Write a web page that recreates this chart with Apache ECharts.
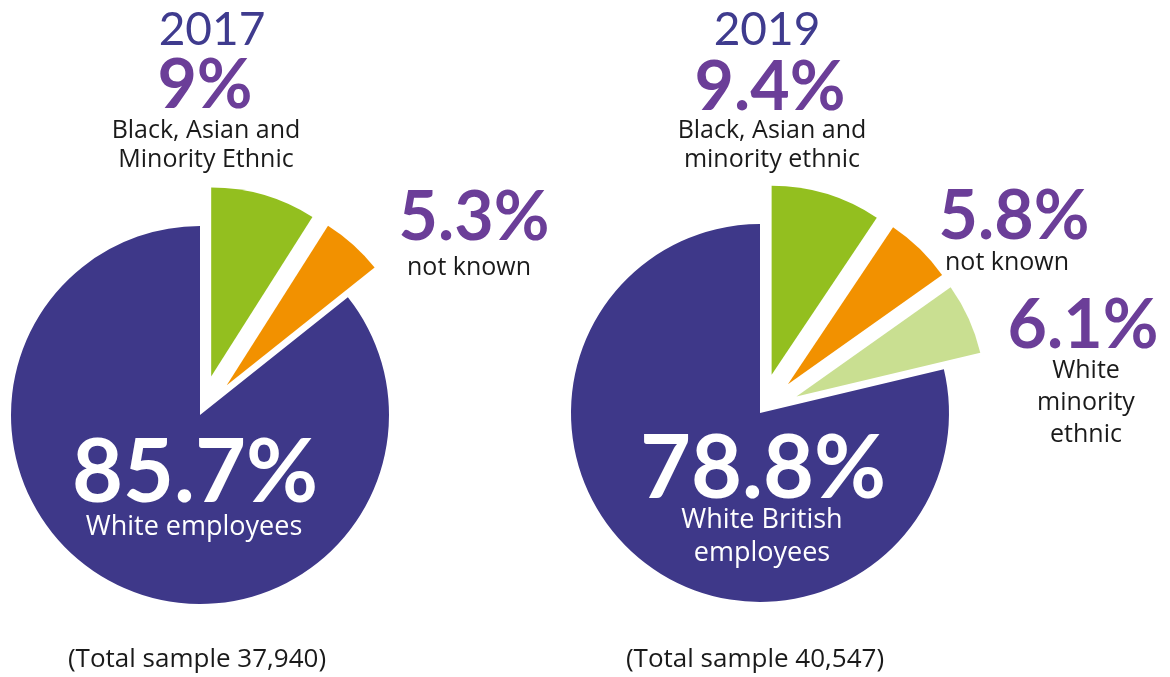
<!DOCTYPE html>
<html>
<head>
<meta charset="utf-8">
<script src="https://cdn.jsdelivr.net/npm/echarts@6/dist/echarts.min.js"></script>
<style>
html,body{margin:0;padding:0;background:#fff;}
#chart{width:1170px;height:677px;}
</style>
</head>
<body>
<div id="chart"></div>
<script>
const years = ['2017', '2019'];
const cats2017 = ['Black, Asian and Minority Ethnic', 'not known', 'White employees'];
const vals2017 = [9, 5.3, 85.7];
const cats2019 = ['Black, Asian and minority ethnic', 'not known', 'White minority ethnic', 'White British employees'];
const vals2019 = [9.4, 5.8, 6.1, 78.8];
const samples = ['37,940', '40,547'];

const PURPLE = '#3e3889';
const GREEN = '#93bf1f';
const ORANGE = '#f29100';
const LIGHTGREEN = '#c9df91';
const TITLE = '#3f3b8e';
const PCT = '#6b3e98';
const FONT = 'Lato, "Open Sans", sans-serif';
const LFONT = '"Open Sans", Lato, sans-serif';

const colors2017 = [GREEN, ORANGE, PURPLE];
const colors2019 = [GREEN, ORANGE, LIGHTGREEN, PURPLE];

function pieData(cats, vals, cols) {
  return cats.map((c, i) => ({
    name: c,
    value: vals[i],
    selected: i < cats.length - 1,
    itemStyle: { color: cols[i] }
  }));
}

function pieSeries(cats, vals, cols, center) {
  return {
    type: 'pie',
    z: 1,
    center: center,
    radius: 189,
    startAngle: 90,
    clockwise: true,
    selectedMode: 'multiple',
    selectedOffset: 40,
    avoidLabelOverlap: false,
    label: { show: false },
    labelLine: { show: false },
    emphasis: { disabled: true },
    select: { itemStyle: {} },
    animation: false,
    data: pieData(cats, vals, cols)
  };
}

function txt(x, y, text, size, color, weight, font, lh) {
  return {
    type: 'text', x: x, y: y, z: 100, silent: true,
    style: {
      text: text, fontSize: size, fontFamily: font || LFONT, fontWeight: weight || 'normal',
      fill: color, align: 'center', verticalAlign: 'middle', lineHeight: lh || Math.round(size * 1.28)
    }
  };
}
const pct = v => v + '%';

const graphics = [
  // 2017
  txt(212, 30, years[0], 46, TITLE, 'normal', FONT),
  txt(205, 86, pct(vals2017[0]), 68, PCT, 'bold', FONT),
  txt(206, 145, 'Black, Asian and\nMinority Ethnic', 25, '#1a1a1a', 'normal', LFONT, 29),
  txt(474, 218, pct(vals2017[1]), 68, PCT, 'bold', FONT),
  txt(469, 268, cats2017[1], 25, '#1a1a1a'),
  txt(195, 474, pct(vals2017[2]), 88, '#ffffff', 'bold', FONT),
  txt(194, 527, 'White employees', 27, '#ffffff'),
  txt(197, 660, '(Total sample ' + samples[0] + ')', 26, '#1a1a1a'),
  // 2019
  txt(767, 30, years[1], 46, TITLE, 'normal', FONT),
  txt(770, 88, pct(vals2019[0]), 68, PCT, 'bold', FONT),
  txt(772, 145, 'Black, Asian and\nminority ethnic', 25, '#1a1a1a', 'normal', LFONT, 29),
  txt(1014, 217, pct(vals2019[1]), 68, PCT, 'bold', FONT),
  txt(1007, 263, cats2019[1], 25, '#1a1a1a'),
  txt(1083, 326, pct(vals2019[2]), 68, PCT, 'bold', FONT),
  txt(1086, 403, 'White\nminority\nethnic', 25, '#1a1a1a', 'normal', LFONT, 32),
  txt(763, 470, pct(vals2019[3]), 88, '#ffffff', 'bold', FONT),
  txt(762, 537, 'White British\nemployees', 27, '#ffffff', 'normal', LFONT, 33),
  txt(755, 660, '(Total sample ' + samples[1] + ')', 26, '#1a1a1a')
];

const chart = echarts.init(document.getElementById('chart'), null, { renderer: 'canvas' });
chart.setOption({
  animation: false,
  backgroundColor: '#ffffff',
  series: [
    pieSeries(cats2017, vals2017, colors2017, [200, 415]),
    pieSeries(cats2019, vals2019, colors2019, [760, 413])
  ],
  graphic: { elements: graphics }
});
</script>
</body>
</html>
